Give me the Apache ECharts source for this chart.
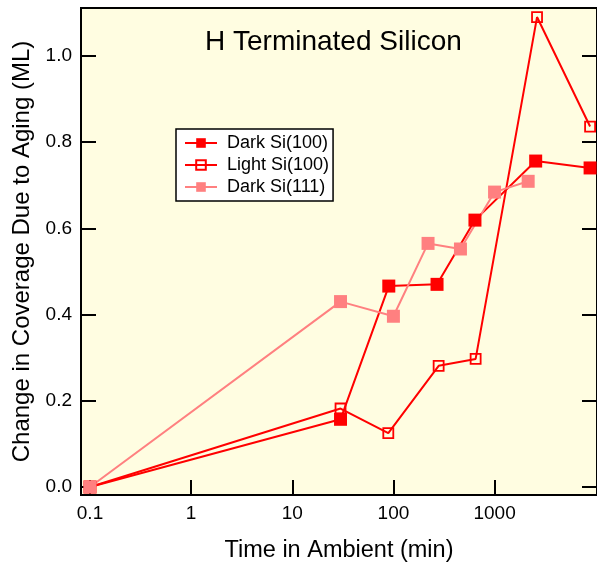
<!DOCTYPE html>
<html>
<head>
<meta charset="utf-8">
<script src="https://cdn.jsdelivr.net/npm/echarts@6/dist/echarts.min.js"></script>
<style>
html,body{margin:0;padding:0;background:#fff;}
#chart{width:597px;height:568px;}
</style>
</head>
<body>
<div id="chart"></div>
<script>
// ---- data ----
const seriesNames = ['Dark Si(100)', 'Light Si(100)', 'Dark Si(111)'];
const xDark100  = [0.1, 30, 90, 270, 640, 2550, 8800];
const yDark100  = [0, 0.157, 0.466, 0.470, 0.619, 0.756, 0.740];
const xLight100 = [0.1, 30, 89, 280, 650, 2630, 8800];
const yLight100 = [0, 0.182, 0.125, 0.281, 0.297, 1.090, 0.836];
const xDark111  = [0.1, 30, 100, 220, 460, 1000, 2150];
const yDark111  = [0, 0.430, 0.396, 0.565, 0.552, 0.684, 0.709];
const xTicks = [0.1, 1, 10, 100, 1000];
const yTicks = [0, 0.2, 0.4, 0.6, 0.8, 1.0];
const titleText = 'H Terminated Silicon';
const xName = 'Time in Ambient (min)';
const yName = 'Change in Coverage Due to Aging (ML)';

const pair = (xs, ys) => xs.map((x, i) => [x, ys[i]]);
const FONT = '"Liberation Sans", Arial, sans-serif';

const chart = echarts.init(document.getElementById('chart'), null, {renderer: 'canvas'});
const tickStyle = {color: '#000', width: 2};

chart.setOption({
  animation: false,
  backgroundColor: '#fff',
  title: {
    text: titleText, left: 200, top: 23,
    textStyle: {fontFamily: FONT, fontSize: 28, fontWeight: 'normal', color: '#000'}
  },
  legend: {
    orient: 'vertical', left: 176, top: 129,
    backgroundColor: '#fff', borderColor: '#000', borderWidth: 1.5,
    padding: [5, 4, 5, 8], itemGap: 4, itemWidth: 32, itemHeight: 12,
    textStyle: {fontFamily: FONT, fontSize: 18, color: '#000', lineHeight: 16, padding: [0, 0, 0, 5]},
    data: seriesNames
  },
  grid: {
    left: 81, right: -3, top: 8, bottom: 73,
    show: true, backgroundColor: '#fffde1', borderColor: '#000', borderWidth: 2
  },
  xAxis: {
    type: 'log', logBase: 10, min: 0.0815, max: 10300,
    name: xName, nameLocation: 'middle', nameGap: 44,
    nameTextStyle: {fontFamily: FONT, fontSize: 23.5, color: '#000'},
    axisLine: {show: true, onZero: false, lineStyle: {color: '#000', width: 2}},
    axisTick: {show: true, inside: true, length: 15, lineStyle: tickStyle, customValues: xTicks},
    minorTick: {show: false},
    splitLine: {show: false},
    axisLabel: {
      customValues: xTicks, margin: 9, color: '#000',
      fontFamily: FONT, fontSize: 19,
      formatter: v => String(v)
    }
  },
  yAxis: [{
    type: 'value', min: -0.0186, max: 1.111, position: 'left',
    name: yName, nameLocation: 'middle', nameGap: 46,
    nameTextStyle: {fontFamily: FONT, fontSize: 24, color: '#000'},
    axisLine: {show: true, onZero: false, lineStyle: {color: '#000', width: 2}},
    axisTick: {show: true, inside: true, length: 15, lineStyle: tickStyle, customValues: yTicks},
    splitLine: {show: false},
    axisLabel: {
      customValues: yTicks, margin: 9, color: '#000',
      fontFamily: FONT, fontSize: 19,
      formatter: v => v.toFixed(1)
    }
  }, {
    type: 'value', min: -0.0186, max: 1.111, position: 'right',
    axisLine: {show: false},
    axisTick: {show: true, inside: true, length: 15, lineStyle: tickStyle, customValues: yTicks},
    splitLine: {show: false},
    axisLabel: {show: false}
  }],
  series: [{
    name: seriesNames[0], type: 'line', data: pair(xDark100, yDark100),
    symbol: 'rect', symbolSize: 13,
    lineStyle: {color: '#ff0000', width: 2},
    itemStyle: {color: '#ff0000'}
  }, {
    name: seriesNames[1], type: 'line', data: pair(xLight100, yLight100),
    symbol: 'rect', symbolSize: 10,
    lineStyle: {color: '#ff0000', width: 2},
    itemStyle: {color: 'rgba(0,0,0,0)', borderColor: '#ff0000', borderWidth: 1.8}
  }, {
    name: seriesNames[2], type: 'line', data: pair(xDark111, yDark111),
    symbol: 'rect', symbolSize: 13,
    lineStyle: {color: '#ff8080', width: 2},
    itemStyle: {color: '#ff8080'}
  }]
});
</script>
</body>
</html>
